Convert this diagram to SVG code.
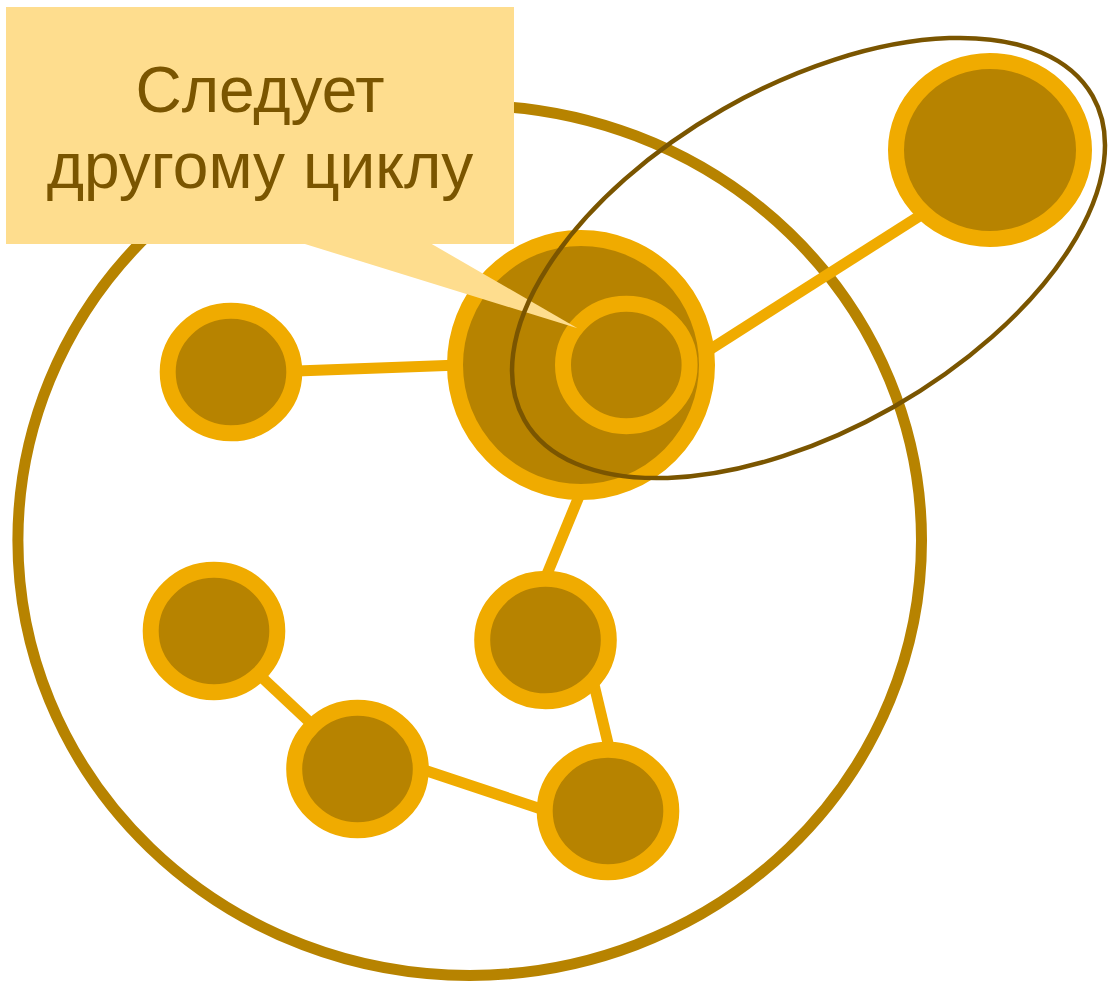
<svg xmlns="http://www.w3.org/2000/svg" width="1108" height="984" viewBox="0 0 1108 984">
<style>
.node{fill:#b78300;stroke:#f0ab00;stroke-width:16}
.edge{stroke:#f0ab00;stroke-width:11;fill:none}
.lbl{font-family:"Liberation Sans",Arial,sans-serif;font-size:64px;fill:#7a5500;text-anchor:middle}
</style>
<rect width="1108" height="984" fill="#ffffff"/>
<g id="cycle">
<ellipse cx="469.7" cy="540.4" rx="451.8" ry="435" fill="none" stroke="#b78300" stroke-width="11"/>
</g>
<g id="connectors">
<line class="edge" x1="290" y1="371.2" x2="460" y2="365"/>
<line class="edge" x1="581" y1="491.5" x2="545" y2="579"/>
<line class="edge" x1="700" y1="355.8" x2="930" y2="209.3"/>
<line class="edge" x1="591" y1="672" x2="612" y2="760"/>
<line class="edge" x1="255" y1="671" x2="318" y2="730"/>
<line class="edge" x1="418" y1="768" x2="550" y2="812"/>
</g>
<g id="node-big"><ellipse class="node" cx="581" cy="365" rx="126" ry="127"/></g>
<g id="node-inner"><ellipse class="node" cx="626.3" cy="365" rx="63.3" ry="61.2"/></g>
<g id="node-left"><ellipse class="node" cx="231" cy="372" rx="63.3" ry="61.3"/></g>
<g id="node-bl"><ellipse class="node" cx="214" cy="631" rx="63.3" ry="61.3"/></g>
<g id="node-mid"><ellipse class="node" cx="357.5" cy="769" rx="63.3" ry="61.3"/></g>
<g id="node-4"><ellipse class="node" cx="545.5" cy="640" rx="63.3" ry="61.3"/></g>
<g id="node-br"><ellipse class="node" cx="608" cy="811" rx="63.3" ry="61.3"/></g>
<g id="node-tr"><ellipse class="node" cx="990" cy="150" rx="94" ry="89"/></g>
<g id="callout">
<polygon points="301.7,243 430,243 577.5,328.3" fill="#fedd8e"/>
<rect x="6" y="7" width="508" height="237" fill="#fedd8e"/>
<text class="lbl" x="260" y="112">Следует</text>
<text class="lbl" x="260" y="188">другому циклу</text>
</g>
<g id="other-cycle">
<ellipse cx="808.5" cy="258" rx="327" ry="171.5" transform="rotate(-29.7 808.5 258)" fill="none" stroke="#7a5500" stroke-width="4.5"/>
</g>
</svg>
